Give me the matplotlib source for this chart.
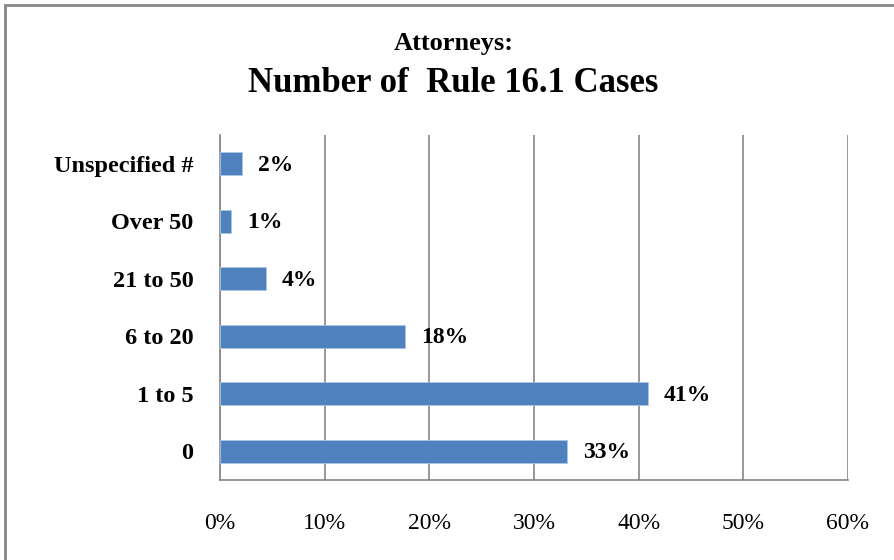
import numpy as np
import matplotlib.pyplot as plt
from matplotlib.patches import Rectangle

# DATA (bottom to top)
categories = ['0', '1 to 5', '6 to 20', '21 to 50', 'Over 50', 'Unspecified #']
shares = [33.2, 40.9, 17.7, 4.4, 1.1, 2.1]
share_labels = ['33%', '41%', '18%', '4%', '1%', '2%']
x_ticks = [0, 10, 20, 30, 40, 50, 60]
x_tick_labels = ['0%', '10%', '20%', '30%', '40%', '50%', '60%']

plt.rcParams['font.family'] = ['Liberation Serif', 'DejaVu Serif']

fig = plt.figure(figsize=(8.94, 5.6), dpi=100)
ax = fig.add_axes([0.246, 0.143, 0.7025, 0.616])

# outer frame like the chart area border
fig.patches.append(Rectangle((5 / 894, -0.05), 1.2, 1 - 5 / 560 + 0.05,
                             transform=fig.transFigure, fill=False,
                             edgecolor='#878787', linewidth=2))

y = np.arange(len(categories))
ax.barh(y, shares, height=0.4, color='#4F81BD', edgecolor='#A9C4E6', linewidth=0.6, zorder=3)

for yi, v, lab in zip(y, shares, share_labels):
    ax.text(v + 1.5, yi - 0.03, lab, va='center', ha='left',
            fontsize=17, fontweight='bold', zorder=4)

ax.set_xlim(0, 60)
ax.set_ylim(-0.5, len(categories) - 0.5)
ax.set_xticks(x_ticks)
ax.set_xticklabels(x_tick_labels, fontsize=17)
ax.set_yticks(y)
ax.set_yticklabels(categories, fontsize=17.5, fontweight='bold')
ax.tick_params(axis='x', length=0, pad=24)
ax.tick_params(axis='y', length=0, pad=19)

ax.grid(axis='x', color='#868686', linewidth=1.2, zorder=0)
for s in ['top', 'right']:
    ax.spines[s].set_visible(False)
for s in ['left', 'bottom']:
    ax.spines[s].set_color('#868686')
    ax.spines[s].set_linewidth(1.2)

fig.text(0.507, 0.922, 'Attorneys:', ha='center', va='center',
         fontsize=19, fontweight='bold')
fig.text(0.507, 0.850, 'Number of  Rule 16.1 Cases', ha='center', va='center',
         fontsize=25, fontweight='bold')

fig.savefig('out.png', dpi=100)
